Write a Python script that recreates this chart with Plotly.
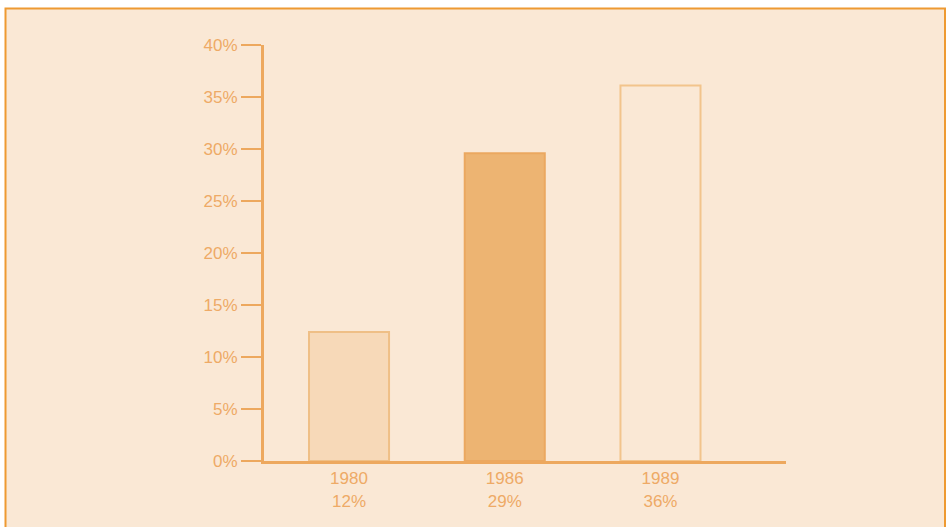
import plotly.graph_objects as go

years = ["1980", "1986", "1989"]
shares = [12.4, 29.6, 36.1]
share_labels = ["12%", "29%", "36%"]
bar_fills = ["#F7D9B8", "#EDB472", "#FAE8D5"]
bar_lines = ["#EFBF86", "#EBA860", "#F2C48C"]
y_ticks = [0, 5, 10, 15, 20, 25, 30, 35, 40]

axis_col = "#EDA85E"
text_col = "#EEAA66"
bg = "#FAE8D5"

x_pos = list(range(len(years)))
tick_text = [f"{y}<br>{s}" for y, s in zip(years, share_labels)]

fig = go.Figure()
fig.add_trace(go.Bar(
    x=x_pos, y=shares, width=0.514,
    marker=dict(color=bar_fills, line=dict(color=bar_lines, width=2)),
    hoverinfo="skip",
))

W, H = 947, 527
l, r, t, b = 264, 161, 45, 66
fig.update_layout(
    width=W, height=H,
    margin=dict(l=l, r=r, t=t, b=b, pad=0),
    paper_bgcolor="white",
    plot_bgcolor="rgba(0,0,0,0)",
    showlegend=False,
    font=dict(family="Liberation Sans, Arial, sans-serif", size=17, color=text_col),
    xaxis=dict(
        range=[-0.546, 2.806], tickmode="array", tickvals=x_pos, ticktext=tick_text,
        showgrid=False, zeroline=False, showline=True, linecolor=axis_col, linewidth=3,
        ticks="", tickfont=dict(size=17, color=text_col), fixedrange=True,
    ),
    yaxis=dict(
        range=[0, 40], tickmode="array", tickvals=y_ticks,
        ticktext=[f"{v}%" for v in y_ticks],
        showgrid=False, zeroline=False, showline=True, linecolor=axis_col, linewidth=3,
        ticks="outside", ticklen=20, tickwidth=2, tickcolor=axis_col,
        tickfont=dict(size=17, color=text_col), fixedrange=True,
    ),
)

pw, ph = W - l - r, H - t - b
def px_x(x):
    return (x - l) / pw
def px_y(y):
    return (H - b - y) / ph

# outer frame
fig.add_shape(type="rect", xref="paper", yref="paper",
              x0=px_x(5.5), x1=px_x(945), y0=px_y(560), y1=px_y(8.5),
              fillcolor=bg, line=dict(color="#EE9A32", width=2), layer="below")

fig.write_html("out.html")
